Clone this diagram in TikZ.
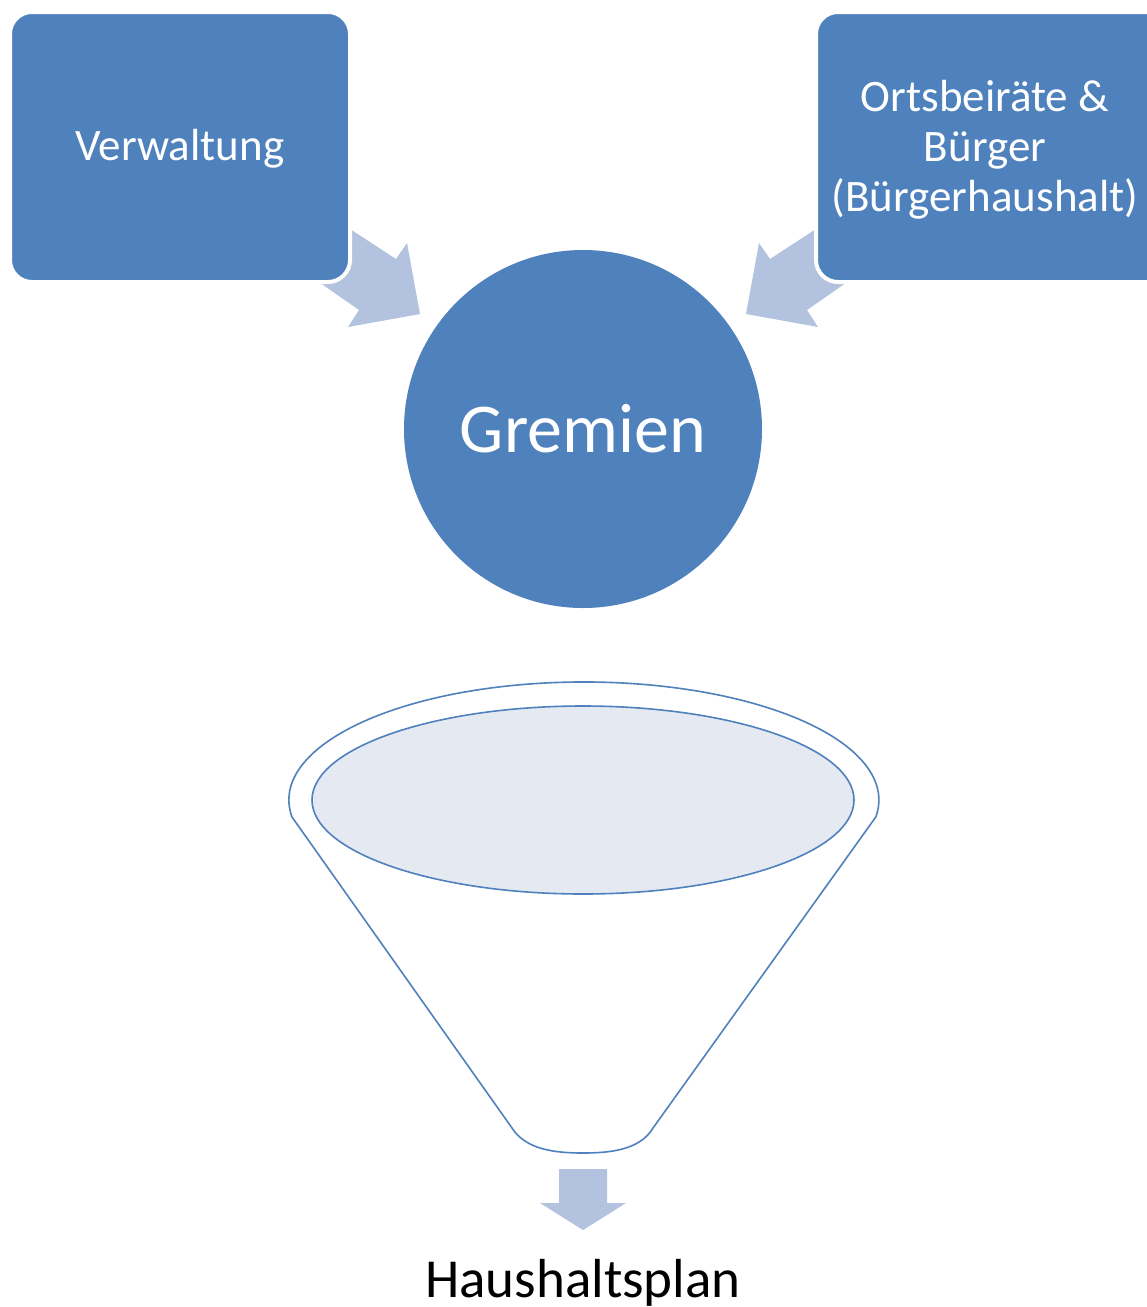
\documentclass[tikz,border=0pt]{standalone}
\usepackage{fontspec}
\setmainfont{Carlito}
\definecolor{boxblue}{HTML}{4F81BD}
\definecolor{arrowblue}{HTML}{B3C2DE}
\definecolor{funnelfill}{HTML}{E4E9F2}
\begin{document}
\begin{tikzpicture}[x=1pt,y=1pt,
  blockbox/.style={fill=boxblue, draw=white, line width=4pt, rounded corners=22pt},
  blockarrow/.style={fill=arrowblue, draw=none},
  boxtext/.style={text=white, font=\fontsize{45}{50}\selectfont, align=center},
  funnelline/.style={draw=boxblue, line width=1.6pt}]
\useasboundingbox (0,0) rectangle (1147,-1307);
\fill[white] (0,0) rectangle (1147,-1307);
% arrows into circle
\fill[blockarrow] (330,-216) -- (396,-259) -- (407,-243) -- (420,-314) -- (348,-327) -- (359,-310) -- (303,-271) -- cycle;
\begin{scope}[xshift=1166pt, xscale=-1]
\fill[blockarrow] (330,-216) -- (396,-259) -- (407,-243) -- (420,-314) -- (348,-327) -- (359,-310) -- (303,-271) -- cycle;
\end{scope}
% boxes
\path[blockbox] (10,-12) rectangle (350,-282);
\node[boxtext] (verw) at (180,-149) {Verwaltung};
\path[blockbox] (816,-12) rectangle (1180,-282);
\node[boxtext] (orts) at (985,-150) {Ortsbeiräte \&\\Bürger\\(Bürgerhaushalt)};
% circle
\node[circle, fill=boxblue, minimum size=358pt, inner sep=0pt, text=white, font=\fontsize{70}{80}\selectfont] (grem) at (583,-429) {Gremien};
% funnel
\draw[funnelline, fill=white] (292,-817) arc[start angle=188.3, end angle=-8.3, x radius=295, y radius=118]
  -- (653,-1128) .. controls (640,-1150) and (610,-1153) .. (583,-1153)
  .. controls (556,-1153) and (526,-1150) .. (512,-1128) -- cycle;
\draw[funnelline, fill=funnelfill] (583,-800) ellipse[x radius=271, y radius=94];
% output arrow
\fill[blockarrow] (559,-1169) -- (607,-1169) -- (607,-1203) -- (626,-1203) -- (583,-1230) -- (540,-1203) -- (559,-1203) -- cycle;
\node[font=\fontsize{55}{60}\selectfont, anchor=base] (plan) at (583,-1297) {Haushaltsplan};
\end{tikzpicture}
\end{document}
